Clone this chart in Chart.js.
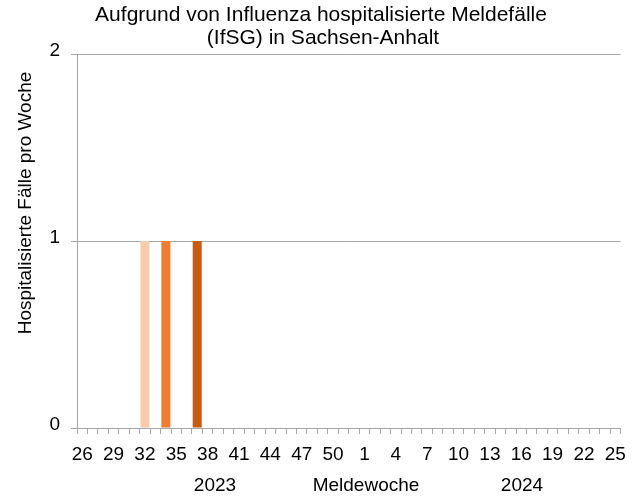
<!DOCTYPE html>
<html>
<head>
<meta charset="utf-8">
<script src="https://cdn.jsdelivr.net/npm/chart.js@4.4.1/dist/chart.umd.min.js"></script>
<style>
  html, body { margin: 0; padding: 0; background: #ffffff; }
  #wrap { width: 635px; height: 501px; position: relative; }
</style>
</head>
<body>
<div id="wrap"><canvas id="influenzaChart"></canvas></div>
<script>
// Meldewochen 26/2023 bis 25/2024
const weeks = [26, 27, 28, 29, 30, 31, 32, 33, 34, 35, 36, 37, 38, 39, 40, 41, 42, 43, 44, 45,
               46, 47, 48, 49, 50, 51, 52, 1, 2, 3, 4, 5, 6, 7, 8, 9, 10, 11, 12, 13,
               14, 15, 16, 17, 18, 19, 20, 21, 22, 23, 24, 25];

// hospitalisierte Faelle pro Woche, je Serie
const seriesLight = [0, 0, 0, 0, 0, 0, 1, 0, 0, 0, 0, 0, 0, 0, 0, 0, 0, 0, 0, 0,
                     0, 0, 0, 0, 0, 0, 0, 0, 0, 0, 0, 0, 0, 0, 0, 0, 0, 0, 0, 0,
                     0, 0, 0, 0, 0, 0, 0, 0, 0, 0, 0, 0];
const seriesMid   = [0, 0, 0, 0, 0, 0, 0, 0, 1, 0, 0, 0, 0, 0, 0, 0, 0, 0, 0, 0,
                     0, 0, 0, 0, 0, 0, 0, 0, 0, 0, 0, 0, 0, 0, 0, 0, 0, 0, 0, 0,
                     0, 0, 0, 0, 0, 0, 0, 0, 0, 0, 0, 0];
const seriesDark  = [0, 0, 0, 0, 0, 0, 0, 0, 0, 0, 0, 1, 0, 0, 0, 0, 0, 0, 0, 0,
                     0, 0, 0, 0, 0, 0, 0, 0, 0, 0, 0, 0, 0, 0, 0, 0, 0, 0, 0, 0,
                     0, 0, 0, 0, 0, 0, 0, 0, 0, 0, 0, 0];

const yTicks = [0, 1, 2];
const titleLines = ['Aufgrund von Influenza hospitalisierte Meldefälle', '(IfSG) in Sachsen-Anhalt'];
const yTitle = 'Hospitalisierte Fälle pro Woche';
const xTitle = 'Meldewoche';
const seasonYears = ['2023', '2024'];

const FONT = "'Liberation Sans', Arial, sans-serif";
const GRID = '#a6a6a6';

// Titel, Achsentitel und Jahreszahlen
const textPlugin = {
    id: 'textPlugin',
    afterDraw(chart) {
        const ctx = chart.ctx;
        ctx.save();
        ctx.fillStyle = '#000';
        ctx.textAlign = 'center';
        ctx.textBaseline = 'middle';

        ctx.font = '21px ' + FONT;
        ctx.fillText(titleLines[0], 321, 15);
        ctx.fillText(titleLines[1], 323, 38);

        ctx.font = '19px ' + FONT;
        ctx.fillText(seasonYears[0], 215, 486);
        ctx.fillText(xTitle, 366, 486);
        ctx.fillText(seasonYears[1], 522, 486);

        ctx.translate(26, 203);
        ctx.rotate(-Math.PI / 2);
        ctx.font = '19px ' + FONT;
        ctx.fillText(yTitle, 0, 0);
        ctx.restore();
    }
};

const ctx = document.getElementById('influenzaChart').getContext('2d');
new Chart(ctx, {
    type: 'bar',
    data: {
        labels: weeks,
        datasets: [
            { label: 'Serie 1', data: seriesLight, backgroundColor: '#F8CBAD' },
            { label: 'Serie 2', data: seriesMid, backgroundColor: '#ED7D31' },
            { label: 'Serie 3', data: seriesDark, backgroundColor: '#C55A11' }
        ]
    },
    options: {
        responsive: true,
        maintainAspectRatio: false,
        animation: false,
        layout: { padding: { top: 54, right: 13, left: 0, bottom: 0 } },
        plugins: {
            legend: { display: false },
            title: { display: false },
            tooltip: { enabled: false }
        },
        datasets: {
            bar: { barPercentage: 0.86, categoryPercentage: 1.0 }
        },
        scales: {
            x: {
                stacked: true,
                offset: true,
                afterFit: axis => { axis.height = 73; },
                grid: {
                    offset: true,
                    drawOnChartArea: false,
                    drawTicks: true,
                    tickLength: 6,
                    color: GRID
                },
                border: { color: GRID, width: 1 },
                ticks: {
                    autoSkip: false,
                    maxRotation: 0,
                    padding: 9,
                    color: '#000',
                    font: { family: FONT, size: 19 },
                    callback: function(value, index) {
                        return index % 3 === 0 ? weeks[index] : '';
                    }
                }
            },
            y: {
                stacked: true,
                min: yTicks[0],
                max: yTicks[yTicks.length - 1],
                afterFit: axis => { axis.width = 77; },
                afterBuildTicks: axis => { axis.ticks = yTicks.map(v => ({ value: v })); },
                grid: {
                    color: GRID,
                    tickLength: 6,
                    lineWidth: 1
                },
                border: { color: GRID, width: 1 },
                ticks: {
                    padding: 11,
                    labelOffset: -3,
                    color: '#000',
                    font: { family: FONT, size: 19 }
                }
            }
        }
    },
    plugins: [textPlugin]
});
</script>
</body>
</html>
